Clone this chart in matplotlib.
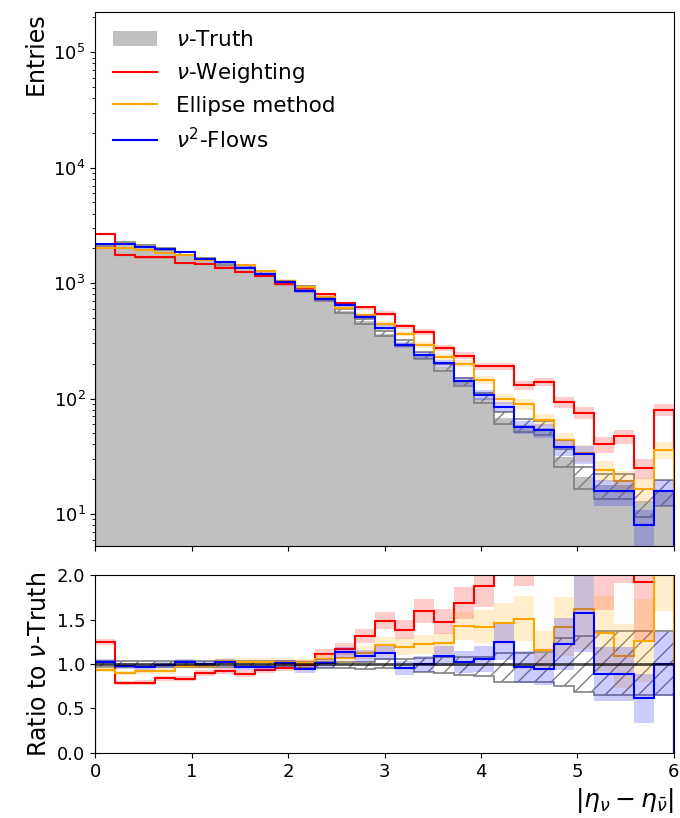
import numpy as np
import matplotlib
matplotlib.use('Agg')
import matplotlib.pyplot as plt

# 29 bins between 0 and 6
edges = np.linspace(0, 6, 30)

truth = np.array([2140, 2230, 2110, 1990, 1800, 1620, 1480, 1400, 1240, 1020,
                  905, 720, 570, 467, 366, 305, 237, 186, 140, 102,
                  68, 59, 56, 31, 21, 17.8, 17.8, 13, 15.8])
nu_weighting = np.array([2670, 1750, 1670, 1670, 1500, 1460, 1360, 1250, 1160, 980,
                         900, 800, 666, 615, 545, 423, 378, 274, 236, 191,
                         191, 131, 139, 93, 75, 40, 47, 25, 80])
ellipse = np.array([2005, 2005, 1936, 1835, 1750, 1585, 1530, 1435, 1272, 1047,
                    917, 760, 610, 527, 446, 365, 289, 229, 200, 145,
                    99, 89, 65, 44, 34, 24, 19.4, 16.4, 36])
flows = np.array([2183, 2183, 2043, 1963, 1849, 1618, 1514, 1359, 1197, 1026,
                  857, 726, 644, 509, 412, 293, 237, 203, 143, 108,
                  85, 57, 53, 38, 33, 15.8, 15.8, 8, 15.8])

# hatched truth band in the ratio panel
truth_ratio_lo = np.array([0.97, 0.97, 0.97, 0.97, 0.97, 0.97, 0.97, 0.97, 0.97, 0.97,
                           0.96, 0.96, 0.95, 0.94, 0.95, 0.95, 0.91, 0.90, 0.88, 0.86,
                           0.80, 0.80, 0.80, 0.75, 0.69, 0.65, 0.65, 0.65, 0.65])
truth_ratio_hi = np.array([1.03, 1.03, 1.03, 1.03, 1.03, 1.03, 1.03, 1.03, 1.03, 1.03,
                           1.02, 1.02, 1.02, 1.02, 1.06, 1.06, 1.07, 1.08, 1.08, 1.08,
                           1.12, 1.12, 1.14, 1.29, 1.31, 1.37, 1.37, 1.37, 1.37])

models = [(nu_weighting, 'red', r'$\nu$-Weighting'),
          (ellipse, 'orange', 'Ellipse method'),
          (flows, 'blue', r'$\nu^2$-Flows')]

plt.rcParams['font.size'] = 13

fig = plt.figure(figsize=(6.8, 8.18), dpi=100)
ax = fig.add_axes([0.140, 0.3325, 0.851, 0.6528])
rax = fig.add_axes([0.140, 0.0795, 0.851, 0.2175])

# TOP PANEL ######
ax.stairs(truth, edges, baseline=1e-3, fill=True, color='silver', label=r'$\nu$-Truth')
t_err = np.sqrt(truth)
ax.stairs(truth + t_err, edges, baseline=truth - t_err, fill=True,
          facecolor='none', edgecolor='gray', hatch='//', lw=1.2)

for vals, col, lab in models:
    err = np.sqrt(vals)
    ax.stairs(vals + err, edges, baseline=vals - err, fill=True, color=col, alpha=0.2, lw=0)
    ax.stairs(vals, edges, color=col, lw=1.5, label=lab)

ax.set_yscale('log')
ax.set_ylim(5.28, 2.23e5)
ax.set_xlim(0, 6)
ax.set_xticks(range(7))
ax.set_xticklabels([])
ax.set_ylabel('Entries', loc='top', fontsize=17)
ax.legend(loc='upper left', frameon=False, fontsize=15.5, handlelength=2.0,
          handletextpad=0.9, borderaxespad=0.45, labelspacing=0.5)

# RATIO PANEL ######
rax.stairs(truth_ratio_hi, edges, baseline=truth_ratio_lo, fill=True,
           facecolor='none', edgecolor='gray', hatch='//', lw=1.2)
for vals, col, lab in models:
    r = vals / truth
    r_err = r * np.sqrt(1. / vals + 1. / truth)
    rax.stairs(r + r_err, edges, baseline=r - r_err, fill=True, color=col, alpha=0.2, lw=0)
    rax.stairs(r, edges, color=col, lw=1.5)
rax.axhline(1.0, color='black', alpha=0.7, lw=2)

rax.set_xlim(0, 6)
rax.set_ylim(0, 2)
rax.set_xticks(range(7))
rax.set_yticks([0, 0.5, 1.0, 1.5, 2.0])
rax.set_ylabel(r'Ratio to $\nu$-Truth', fontsize=17)
rax.set_xlabel(r'$|\eta_\nu - \eta_{\bar{\nu}}|$', loc='right', fontsize=18)

fig.savefig('out.png', dpi=100)
